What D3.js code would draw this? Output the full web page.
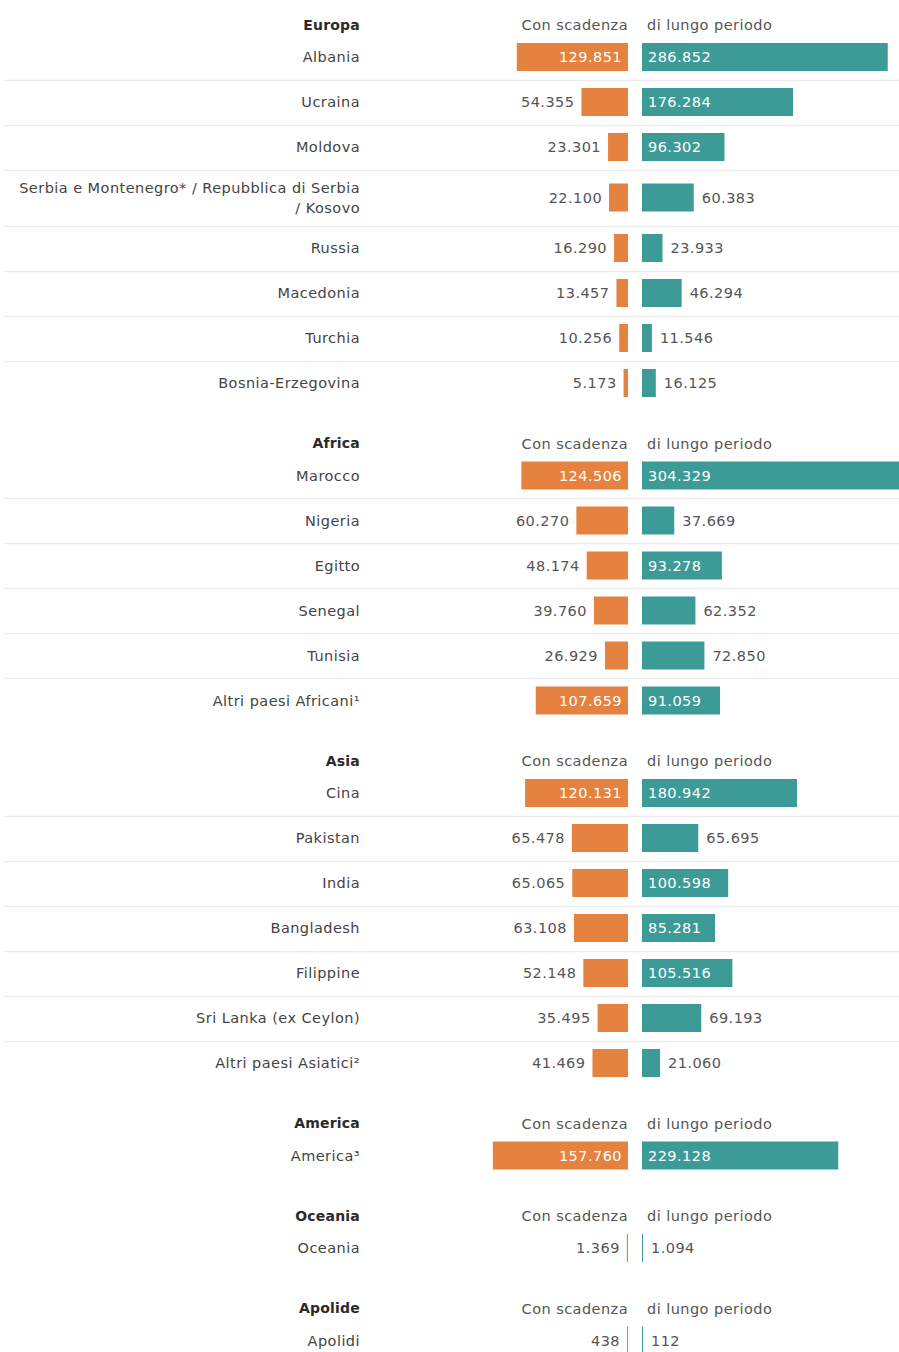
<!DOCTYPE html>
<html lang="it">
<head>
<meta charset="utf-8">
<title>Permessi di soggiorno per area di cittadinanza</title>
<script src="https://cdn.jsdelivr.net/npm/d3@7/dist/d3.min.js"></script>
<style>
  html, body { margin: 0; padding: 0; background: #fff; }
  svg { display: block; }
  text { font-family: "DejaVu Sans", sans-serif; letter-spacing: 0.45px; }
</style>
</head>
<body>
<svg id="chart" width="899" height="1352"></svg>
<script>
// Areas of citizenship, in display order
const groups = ["Europa", "Africa", "Asia", "America", "Oceania", "Apolide"];

// Countries, each tied to its area
const countries = [
  "Albania", "Ucraina", "Moldova",
  "Serbia e Montenegro* / Repubblica di Serbia\n/ Kosovo",
  "Russia", "Macedonia", "Turchia", "Bosnia-Erzegovina",
  "Marocco", "Nigeria", "Egitto", "Senegal", "Tunisia", "Altri paesi Africani¹",
  "Cina", "Pakistan", "India", "Bangladesh", "Filippine", "Sri Lanka (ex Ceylon)", "Altri paesi Asiatici²",
  "America³",
  "Oceania",
  "Apolidi"
];
const countryGroup = [
  "Europa", "Europa", "Europa", "Europa", "Europa", "Europa", "Europa", "Europa",
  "Africa", "Africa", "Africa", "Africa", "Africa", "Africa",
  "Asia", "Asia", "Asia", "Asia", "Asia", "Asia", "Asia",
  "America",
  "Oceania",
  "Apolide"
];

// Permits with an expiry date
const conScadenza = [
  129851, 54355, 23301, 22100, 16290, 13457, 10256, 5173,
  124506, 60270, 48174, 39760, 26929, 107659,
  120131, 65478, 65065, 63108, 52148, 35495, 41469,
  157760,
  1369,
  438
];
// Long-term permits
const lungoPeriodo = [
  286852, 176284, 96302, 60383, 23933, 46294, 11546, 16125,
  304329, 37669, 93278, 62352, 72850, 91059,
  180942, 65695, 100598, 85281, 105516, 69193, 21060,
  229128,
  1094,
  112
];

// Column headings
const headLeft = "Con scadenza";
const headRight = "di lungo periodo";

const W = 899, H = 1352;
const svg = d3.select("#chart");

const orange = "#e5823f";
const teal = "#3d9b97";
const labelX = 360;        // right edge of the country labels
const axisLeft = 628;      // right edge of the orange bars
const axisRight = 642;     // left edge of the teal bars
const barH = 28;
const rowH = 45, tallRowH = 56;
const fs = 14.5;

const fmt = v => d3.format(",")(v).replace(/,/g, ".");

const x = d3.scaleLinear().domain([0, 300000]).range([0, 257]);

// Build the vertical layout
const rows = countries.map((c, i) => ({
  name: c, group: countryGroup[i], a: conScadenza[i], b: lungoPeriodo[i]
}));

let y = 25;
const layout = [];
groups.forEach(g => {
  const header = { group: g, y };
  const members = rows.filter(r => r.group === g);
  let top = y + 32 - rowH / 2;
  members.forEach((r, k) => {
    const h = r.name.includes("\n") ? tallRowH : rowH;
    r.top = top; r.h = h; r.cy = top + h / 2; r.last = k === members.length - 1;
    top += h;
  });
  layout.push({ header, members });
  y = members[members.length - 1].cy + 60.5;
});

// Separators between rows of the same area
layout.forEach(L => {
  L.members.filter(r => !r.last).forEach(r => {
    svg.append("line")
      .attr("x1", 4).attr("x2", W)
      .attr("y1", Math.round(r.top + r.h) + 0.5).attr("y2", Math.round(r.top + r.h) + 0.5)
      .attr("stroke", "#ededed").attr("stroke-width", 1.5);
  });
});

layout.forEach(L => {
  const hy = L.header.y;
  svg.append("text")
    .attr("x", labelX).attr("y", hy).attr("dy", "0.35em")
    .attr("text-anchor", "end").attr("font-size", fs - 0.5).attr("font-weight", "bold")
    .style("letter-spacing", "0.2px")
    .attr("fill", "#2a2a2a").text(L.header.group);
  svg.append("text")
    .attr("x", axisLeft).attr("y", hy).attr("dy", "0.35em")
    .attr("text-anchor", "end").attr("font-size", fs).attr("fill", "#555").text(headLeft);
  svg.append("text")
    .attr("x", axisRight + 5).attr("y", hy).attr("dy", "0.35em")
    .attr("text-anchor", "start").attr("font-size", fs).attr("fill", "#555").text(headRight);

  L.members.forEach(r => {
    // Country label (may wrap on two lines)
    const lines = r.name.split("\n");
    const t = svg.append("text")
      .attr("x", labelX).attr("text-anchor", "end")
      .attr("font-size", fs).attr("fill", "#444");
    lines.forEach((ln, j) => {
      t.append("tspan").attr("x", labelX)
        .attr("y", r.cy + (j - (lines.length - 1) / 2) * 20)
        .attr("dy", "0.35em").text(ln);
    });

    // Orange bar, growing to the left
    const wa = Math.max(1, x(r.a));
    svg.append("rect")
      .attr("x", axisLeft - wa).attr("y", r.cy - barH / 2)
      .attr("width", wa).attr("height", barH).attr("fill", orange);
    // Teal bar, growing to the right
    const wb = Math.max(1, x(r.b));
    svg.append("rect")
      .attr("x", axisRight).attr("y", r.cy - barH / 2)
      .attr("width", Math.min(wb, W - axisRight)).attr("height", barH).attr("fill", teal);

    // Value labels: inside the bar when it is wide enough, else beside it
    const la = svg.append("text").attr("y", r.cy).attr("dy", "0.35em")
      .attr("font-size", fs).text(fmt(r.a));
    const twa = la.node().getComputedTextLength();
    if (wa > twa + 10) {
      la.attr("x", axisLeft - 6).attr("text-anchor", "end").attr("fill", "#fff");
    } else {
      la.attr("x", axisLeft - wa - 7).attr("text-anchor", "end").attr("fill", "#555");
    }
    const lb = svg.append("text").attr("y", r.cy).attr("dy", "0.35em")
      .attr("font-size", fs).text(fmt(r.b));
    const twb = lb.node().getComputedTextLength();
    if (wb > twb + 10) {
      lb.attr("x", axisRight + 6).attr("text-anchor", "start").attr("fill", "#fff");
    } else {
      lb.attr("x", axisRight + wb + 8).attr("text-anchor", "start").attr("fill", "#555");
    }
  });
});
</script>
</body>
</html>
